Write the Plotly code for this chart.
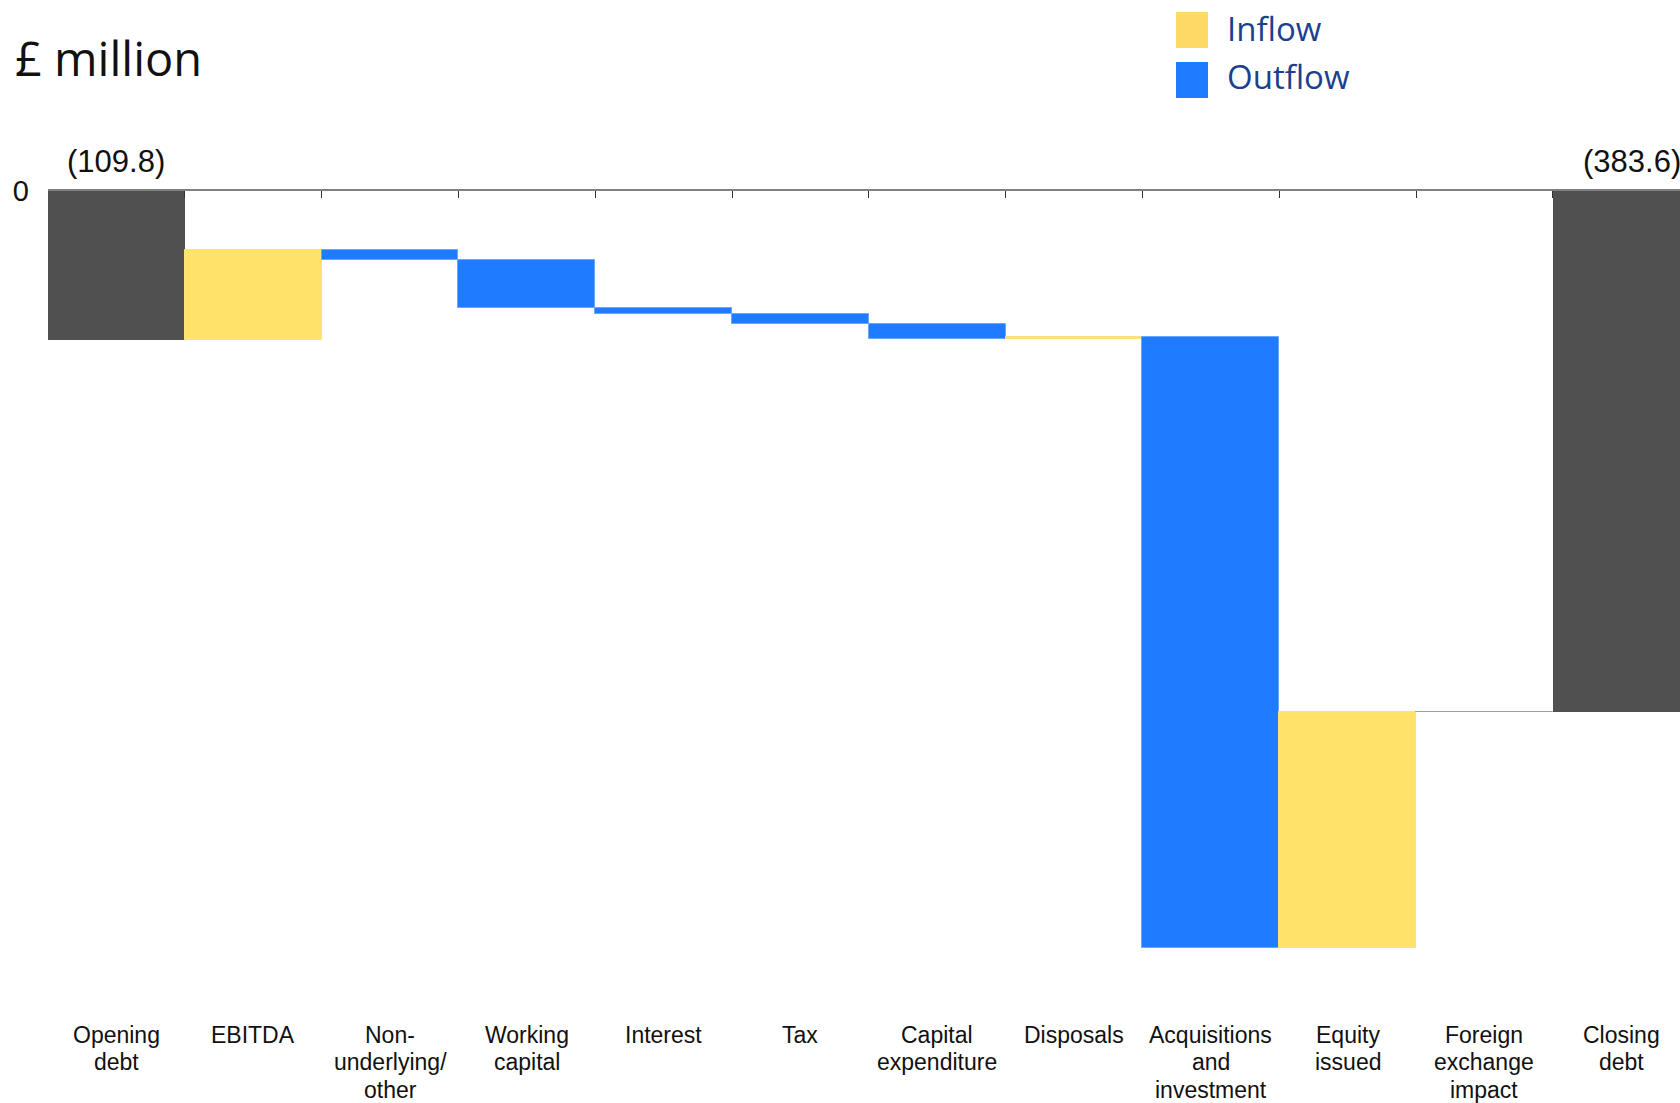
import plotly.graph_objects as go

# ---------------- data ----------------
categories = ["Opening<br>debt", "EBITDA", "Non-<br>underlying/<br>other", "Working<br>capital",
              "Interest", "Tax", "Capital<br>expenditure", "Disposals", "Acquisitions<br>and<br>investment",
              "Equity<br>issued", "Foreign<br>exchange<br>impact", "Closing<br>debt"]
measures = ["absolute", "relative", "relative", "relative", "relative", "relative", "relative",
            "relative", "relative", "relative", "relative", "total"]
values = [-109.8, 66.4, -7.4, -35.6, -4.4, -7.4, -10.9, 1.5, -449.4, 173.6, -0.2, 0]
opening_label = "(109.8)"
closing_label = "(383.6)"

# ---------------- layout constants ----------------
W, H = 1680, 1103
ML, MR, MT, MB = 48, 0, 191, 93
plot_w = W - ML - MR
plot_h = H - MT - MB
cat_w = 136.8
px_per_unit = 1.3582
y_low = -plot_h / px_per_unit
x_hi = -0.5 + plot_w / cat_w

def py2paper(py):
    return (H - MB - py) / plot_h

def px2paper(px):
    return (px - ML) / plot_w

YELLOW = "#FFE26A"
BLUE = "#1F7BFF"
GREY = "#505050"
LEG_TEXT = "#1C3F8F"
ARIAL = "Liberation Sans, Arial, sans-serif"

fig = go.Figure()
fig.add_trace(go.Waterfall(
    x=categories, y=values, measure=measures,
    increasing=dict(marker=dict(color=YELLOW, line=dict(color="#FFE27A", width=1))),
    decreasing=dict(marker=dict(color=BLUE, line=dict(color="#6AA6FF", width=1))),
    totals=dict(marker=dict(color=GREY, line=dict(color=GREY, width=0))),
    connector=dict(visible=False),
    showlegend=False, hoverinfo="skip",
))
# helper trace to carry the top axis with boundary ticks
fig.add_trace(go.Scatter(x=categories, y=[None] * len(categories), xaxis="x2",
                         showlegend=False, hoverinfo="skip", mode="markers"))

fig.update_layout(
    width=W, height=H,
    margin=dict(l=ML, r=MR, t=MT, b=MB, pad=0),
    paper_bgcolor="white", plot_bgcolor="white",
    waterfallgap=0,
    showlegend=False,
    font=dict(family=ARIAL, color="#111111"),
    xaxis=dict(type="category", range=[-0.5, x_hi], showline=False, ticks="",
               showgrid=False, zeroline=False, automargin=False, showticklabels=False),
    xaxis2=dict(type="category", overlaying="x", matches="x", side="top", anchor="y",
                showline=True, linecolor="#808080", linewidth=2,
                ticks="inside", tickson="boundaries", ticklen=7, tickwidth=1,
                tickcolor="#333333", showticklabels=False, showgrid=False,
                zeroline=False, automargin=False),
    yaxis=dict(range=[y_low, 0], showgrid=False, zeroline=False, showline=False,
               tickvals=[0], ticktext=["0"], ticks="", ticklabelstandoff=18,
               tickfont=dict(size=29, color="#111111"), automargin=False),
)

# category labels, one annotation per text line (tighter line spacing than tick labels)
line_centres = [1035, 1062, 1090]
for cat in categories:
    for j, part in enumerate(cat.split("<br>")):
        fig.add_annotation(x=cat, xref="x", yref="paper", y=py2paper(line_centres[j]),
                           text=part, showarrow=False, xanchor="center", yanchor="middle",
                           font=dict(size=23, color="#111111", family=ARIAL))

# value labels for opening and closing
fig.add_annotation(x=categories[0], y=0, text=opening_label, showarrow=False,
                   xanchor="center", yanchor="bottom", yshift=10,
                   font=dict(size=31, color="#111111", family=ARIAL))
fig.add_annotation(x=categories[-1], y=0, text=closing_label, showarrow=False,
                   xanchor="center", yanchor="bottom", yshift=10, xshift=11,
                   font=dict(size=31, color="#111111", family=ARIAL))

# title
fig.add_annotation(xref="paper", yref="paper", x=px2paper(13), y=py2paper(58),
                   text="£ million", showarrow=False, xanchor="left", yanchor="middle",
                   font=dict(size=47, color="#111111", family="Open Sans, sans-serif"))

# legend (custom squares)
legend_items = [("Inflow", "#FFD966", 12, 48, 28), ("Outflow", BLUE, 62, 98, 76)]
for name, col, top, bot, ty in legend_items:
    fig.add_shape(type="rect", xref="paper", yref="paper",
                  x0=px2paper(1176), x1=px2paper(1208), y0=py2paper(bot), y1=py2paper(top),
                  fillcolor=col, line=dict(width=0))
    fig.add_annotation(xref="paper", yref="paper", x=px2paper(1225), y=py2paper(ty),
                       text=name, showarrow=False, xanchor="left", yanchor="middle",
                       font=dict(size=33, color=LEG_TEXT, family="Open Sans, sans-serif"))

fig.write_html("out.html", config={"displayModeBar": False})
